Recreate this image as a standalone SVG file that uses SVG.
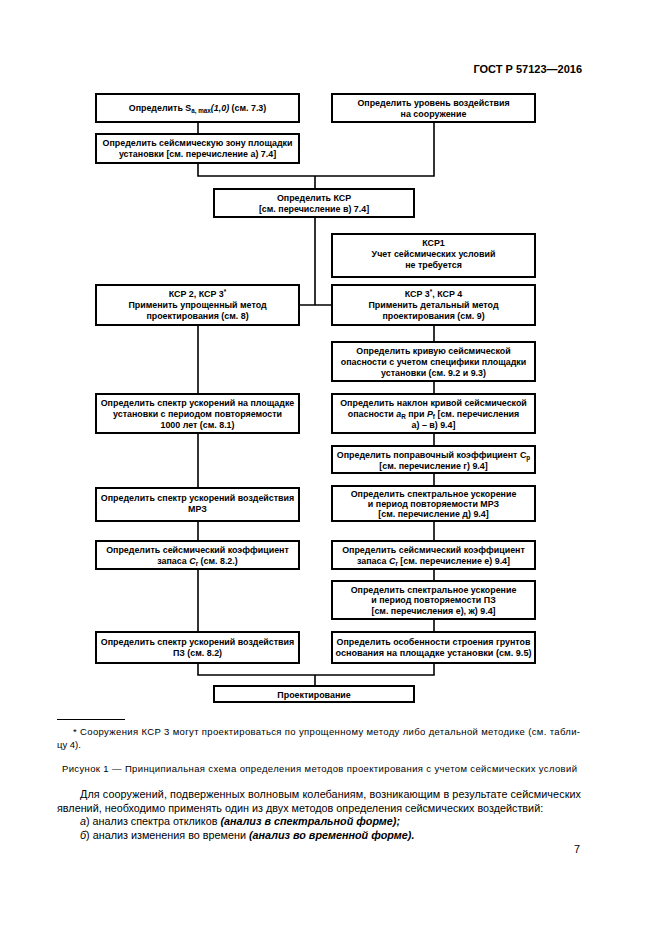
<svg xmlns="http://www.w3.org/2000/svg" width="661" height="935" viewBox="0 0 661 935">
<style>
.bg{fill:#fff}
.box{fill:#fff;stroke:#000;stroke-width:2}
.t{font-family:"Liberation Sans",Arial,sans-serif;font-size:8.9px;font-weight:bold;text-anchor:middle;fill:#000}
.c{fill:none;stroke:#000;stroke-width:1.6}
.p{font-family:"Liberation Sans",Arial,sans-serif;fill:#000}
</style>
<rect class="bg" x="0" y="0" width="661" height="935"/>
<text class="p" x="582" y="73" font-size="11" font-weight="bold" text-anchor="end">ГОСТ Р 57123—2016</text>

<g id="connectors">
<path class="c" d="M198,122V134"/>
<path class="c" d="M198,163V176H434V122M315,176V189"/>
<path class="c" d="M315,217V305M299,305H332"/>
<path class="c" d="M198,325V394M198,433V488M198,521V541M198,569V632"/>
<path class="c" d="M434,325V342M434,381V394M434,433V446M434,473V486M434,521V541M434,569V581M434,619V632"/>
<path class="c" d="M198,663V675H434V663M315,675V686"/>
</g>

<g id="nA"><rect class="box" x="96" y="94" width="203" height="28"/>
<text class="t" x="197.5" y="111">Определить S<tspan font-size="6.3" dy="2">a, max</tspan><tspan dy="-2" font-style="italic">(1,0)</tspan> (см. 7.3)</text></g>

<g id="nB"><rect class="box" x="332" y="94" width="203" height="28"/>
<text class="t" x="433.5" y="106">Определить уровень воздействия</text>
<text class="t" x="433.5" y="116.5">на сооружение</text></g>

<g id="nC"><rect class="box" x="96" y="134" width="203" height="29"/>
<text class="t" x="197.5" y="146">Определить сейсмическую зону площадки</text>
<text class="t" x="197.5" y="157">установки [см. перечисление а) 7.4]</text></g>

<g id="nD"><rect class="box" x="214" y="189" width="200" height="28"/>
<text class="t" x="314" y="201">Определить КСР</text>
<text class="t" x="314" y="212">[см. перечисление в) 7.4]</text></g>

<g id="nF"><rect class="box" x="332" y="234" width="203" height="43"/>
<text class="t" x="433.5" y="246">КСР1</text>
<text class="t" x="433.5" y="257">Учет сейсмических условий</text>
<text class="t" x="433.5" y="268">не требуется</text></g>

<g id="nE"><rect class="box" x="96" y="285" width="203" height="40"/>
<text class="t" x="197.5" y="297">КСР 2, КСР 3<tspan font-size="6.3" dy="-3">*</tspan></text>
<text class="t" x="197.5" y="308">Применить упрощенный метод</text>
<text class="t" x="197.5" y="319">проектирования (см. 8)</text></g>

<g id="nG"><rect class="box" x="332" y="285" width="203" height="40"/>
<text class="t" x="433.5" y="297">КСР 3<tspan font-size="6.3" dy="-3">*</tspan><tspan dy="3">, КСР 4</tspan></text>
<text class="t" x="433.5" y="308">Применить детальный метод</text>
<text class="t" x="433.5" y="319">проектирования (см. 9)</text></g>

<g id="nL"><rect class="box" x="332" y="342" width="203" height="39"/>
<text class="t" x="433.5" y="354">Определить кривую сейсмической</text>
<text class="t" x="433.5" y="365">опасности с учетом специфики площадки</text>
<text class="t" x="433.5" y="376">установки (см. 9.2 и 9.3)</text></g>

<g id="nH"><rect class="box" x="96" y="394" width="203" height="39"/>
<text class="t" x="197.5" y="405.5">Определить спектр ускорений на площадке</text>
<text class="t" x="197.5" y="416.5">установки с периодом повторяемости</text>
<text class="t" x="197.5" y="427.5">1000 лет (см. 8.1)</text></g>

<g id="nM"><rect class="box" x="332" y="394" width="203" height="39"/>
<text class="t" x="433.5" y="405.5">Определить наклон кривой сейсмической</text>
<text class="t" x="433.5" y="416.5">опасности <tspan font-style="italic">a</tspan><tspan font-size="6.3" dy="2">R</tspan><tspan dy="-2"> при </tspan><tspan font-style="italic">P</tspan><tspan font-size="6.3" dy="2">f</tspan><tspan dy="-2"> [см. перечисления</tspan></text>
<text class="t" x="433.5" y="427.5">а) – в) 9.4]</text></g>

<g id="nN"><rect class="box" x="332" y="446" width="203" height="27"/>
<text class="t" x="433.5" y="457.5">Определить поправочный коэффициент C<tspan font-size="6.3" dy="2">p</tspan></text>
<text class="t" x="433.5" y="468.5">[см. перечисление г) 9.4]</text></g>

<g id="nI"><rect class="box" x="96" y="488" width="203" height="33"/>
<text class="t" x="197.5" y="501">Определить спектр ускорений воздействия</text>
<text class="t" x="197.5" y="512">МРЗ</text></g>

<g id="nO"><rect class="box" x="332" y="486" width="203" height="35"/>
<text class="t" x="433.5" y="497">Определить спектральное ускорение</text>
<text class="t" x="433.5" y="507">и период повторяемости МРЗ</text>
<text class="t" x="433.5" y="517">[см. перечисление д) 9.4]</text></g>

<g id="nJ"><rect class="box" x="96" y="541" width="203" height="28"/>
<text class="t" x="197.5" y="553">Определить сейсмический коэффициент</text>
<text class="t" x="197.5" y="564">запаса <tspan font-style="italic">C</tspan><tspan font-size="6.3" dy="2">r</tspan><tspan dy="-2"> (см. 8.2.)</tspan></text></g>

<g id="nP"><rect class="box" x="332" y="541" width="203" height="28"/>
<text class="t" x="433.5" y="553">Определить сейсмический коэффициент</text>
<text class="t" x="433.5" y="564">запаса <tspan font-style="italic">C</tspan><tspan font-size="6.3" dy="2">r</tspan><tspan dy="-2"> [см. перечисление е) 9.4]</tspan></text></g>

<g id="nQ"><rect class="box" x="332" y="581" width="203" height="38"/>
<text class="t" x="433.5" y="592.5">Определить спектральное ускорение</text>
<text class="t" x="433.5" y="603">и период повторяемости ПЗ</text>
<text class="t" x="433.5" y="613.5">[см. перечисления е), ж) 9.4]</text></g>

<g id="nK"><rect class="box" x="96" y="632" width="203" height="31"/>
<text class="t" x="197.5" y="645">Определить спектр ускорений воздействия</text>
<text class="t" x="197.5" y="656">ПЗ (см. 8.2)</text></g>

<g id="nR"><rect class="box" x="332" y="632" width="203" height="31"/>
<text class="t" x="433.5" y="645">Определить особенности строения грунтов</text>
<text class="t" x="433.5" y="656" textLength="196" lengthAdjust="spacingAndGlyphs">основания на площадке установки (см. 9.5)</text></g>

<g id="nS"><rect class="box" x="214" y="686" width="200" height="16"/>
<text class="t" x="314" y="697.5">Проектирование</text></g>

<line x1="57" y1="719.5" x2="125" y2="719.5" stroke="#000" stroke-width="1"/>
<text class="p" x="73" y="735" font-size="9.5" textLength="507" lengthAdjust="spacing">* Сооружения КСР 3 могут проектироваться по упрощенному методу либо детальной методике (см. табли-</text>
<text class="p" x="57" y="748" font-size="9.5">цу 4).</text>
<text class="p" x="62" y="772" font-size="9.5" textLength="515" lengthAdjust="spacing">Рисунок  1 — Принципиальная схема определения методов проектирования с учетом сейсмических условий</text>
<text class="p" x="80" y="798" font-size="10.8" textLength="501" lengthAdjust="spacing">Для сооружений, подверженных волновым колебаниям, возникающим в результате сейсмических</text>
<text class="p" x="57" y="811.5" font-size="10.8">явлений, необходимо применять один из двух методов определения сейсмических воздействий:</text>
<text class="p" x="80" y="825" font-size="10.8"><tspan font-style="italic">а</tspan>)  анализ спектра откликов <tspan font-style="italic" font-weight="bold">(анализ в спектральной форме);</tspan></text>
<text class="p" x="80" y="838.5" font-size="10.8"><tspan font-style="italic">б</tspan>)  анализ изменения во времени <tspan font-style="italic" font-weight="bold">(анализ во временной форме).</tspan></text>
<text class="p" x="580" y="853" font-size="10.8" text-anchor="end">7</text>
</svg>
